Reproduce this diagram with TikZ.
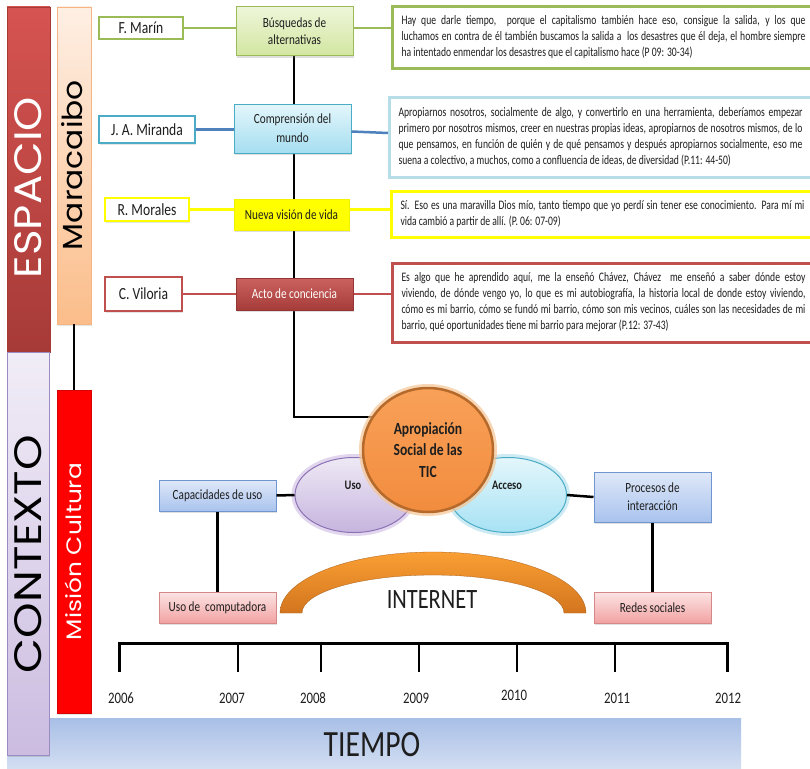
\documentclass[tikz,border=0pt]{standalone}
\usepackage{fontspec}
\usepackage{graphicx}
\setmainfont{Carlito}[FakeStretch=0.8]
\newfontfamily\quotefont{Carlito}[FakeStretch=0.74]
\newfontfamily\gothic{Poppins}
\usetikzlibrary{shapes.geometric,shadows}
\newcommand\resetsp{\spaceskip=0pt\xspaceskip=0pt\relax}
\newcommand\jline[1]{\makebox[404pt][s]{\resetsp #1}}
\definecolor{txt}{HTML}{1E1E1E}
\definecolor{gB}{HTML}{9BBB59}
\definecolor{tealB}{HTML}{4BACC6}
\definecolor{blueL}{HTML}{4F81BD}
\definecolor{yelB}{HTML}{FFFF00}
\definecolor{redB}{HTML}{C0504D}
\definecolor{q2B}{HTML}{B7DEE8}
\definecolor{espTop}{HTML}{D65451}
\definecolor{espBot}{HTML}{A63A37}
\definecolor{ctxTop}{HTML}{F1EDF7}
\definecolor{ctxBot}{HTML}{CBBCE0}
\definecolor{ctxB}{HTML}{9C8AC2}
\definecolor{maraTop}{HTML}{FEEFE4}
\definecolor{maraBot}{HTML}{FBBD8A}
\definecolor{maraB}{HTML}{F7B483}
\definecolor{misRed}{HTML}{FF0000}
\definecolor{misB}{HTML}{D80000}
\definecolor{tiTop}{HTML}{A8BFE6}
\definecolor{tiBot}{HTML}{D4DFF2}
\definecolor{busTop}{HTML}{EEF6D9}
\definecolor{busBot}{HTML}{D2E6A1}
\definecolor{coTop}{HTML}{E4F6FB}
\definecolor{coBot}{HTML}{A5DEF1}
\definecolor{actTop}{HTML}{CB625F}
\definecolor{actBot}{HTML}{A63C39}
\definecolor{actB}{HTML}{943634}
\definecolor{capTop}{HTML}{DFE8F8}
\definecolor{capBot}{HTML}{A9C3EE}
\definecolor{capB}{HTML}{7096D2}
\definecolor{rsTop}{HTML}{FCE4E4}
\definecolor{rsBot}{HTML}{F2A2A2}
\definecolor{rsB}{HTML}{D48888}
\definecolor{usoTop}{HTML}{EEE9F5}
\definecolor{usoBot}{HTML}{C6B4DE}
\definecolor{usoB}{HTML}{8C72B4}
\definecolor{usoG}{HTML}{CDBCE4}
\definecolor{accTop}{HTML}{E3F6FB}
\definecolor{accBot}{HTML}{A7E2F4}
\definecolor{accG}{HTML}{AEDFEE}
\definecolor{apTop}{HTML}{F8A158}
\definecolor{apBot}{HTML}{F28C3E}
\definecolor{apB}{HTML}{B5692A}
\definecolor{apG}{HTML}{F6C593}
\definecolor{inTop}{HTML}{FA9F34}
\definecolor{inBot}{HTML}{D2751E}
\begin{document}
\begin{tikzpicture}[x=1pt,y=-1pt,
  namebox/.style={draw, fill=white, line width=2.5pt, inner sep=0pt,
    font=\fontsize{17}{20}\selectfont, text=txt,
    drop shadow={opacity=0.2, shadow xshift=1pt, shadow yshift=-1.5pt}},
  conbox/.style={draw, line width=1pt, inner sep=0pt, align=center,
    font=\fontsize{14}{17}\selectfont, text=txt,
    drop shadow={opacity=0.25, shadow xshift=1.2pt, shadow yshift=-1.8pt}},
  quotebox/.style={draw, fill=white, line width=3pt, inner sep=0pt, anchor=west,
    minimum width=422, text width=404pt, align=left,
    font=\quotefont\fontsize{13}{16}\selectfont, text=txt,
    drop shadow={opacity=0.2, shadow xshift=1pt, shadow yshift=-1.5pt}},
  bar/.style={draw, line width=0.8pt, inner sep=0pt},
  conn/.style={line width=2.5pt},
  blk/.style={line width=2.5pt, black},
  year/.style={font=\fontsize{16}{18}\selectfont, text=txt},
  ell/.style={ellipse, draw, inner sep=0pt}
]
\useasboundingbox[fill=white] (0,0) rectangle (810,768);

% ---- background bars ----
\node[bar, draw=none, top color=tiTop, bottom color=tiBot, minimum width=734, minimum height=52] (tiempoband) at (374,744) {};
\node[bar, draw=espBot, top color=espTop, bottom color=espBot, minimum width=43, minimum height=345] (espbar) at (28.5,179.5) {};
\node[bar, draw=ctxB, top color=ctxTop, bottom color=ctxBot, minimum width=42, minimum height=403,
  drop shadow={opacity=0.25, shadow xshift=1.2pt, shadow yshift=-1.5pt}] (ctxbar) at (28,553.5) {};
\node[bar, draw=maraB, top color=maraTop, bottom color=maraBot, minimum width=34, minimum height=317,
  drop shadow={opacity=0.2, shadow xshift=1.2pt, shadow yshift=-1.5pt}] (mara) at (74,165.5) {};
\node[bar, draw=misB, fill=misRed, minimum width=34, minimum height=323,
  drop shadow={opacity=0.2, shadow xshift=1.2pt, shadow yshift=-1.5pt}] (mision) at (74,551.5) {};
\draw[line width=2pt] (mara.south) -- (mision.north);

\node[rotate=90, text=white, inner sep=0pt] (espt) at (28.5,187.5) {\resizebox{181pt}{27pt}{\gothic ESPACIO}};
\node[rotate=90, text=black, inner sep=0pt] (ctxt) at (28.5,554) {\resizebox{238pt}{27pt}{\gothic CONTEXTO}};
\node[rotate=90, text=black, inner sep=0pt] (marat) at (72.5,165) {\resizebox{170pt}{21pt}{\gothic Maracaibo}};
\node[rotate=90, text=white, inner sep=0pt] (mist) at (73.75,551.5) {\resizebox{177pt}{16.5pt}{\gothic Misión Cultura}};

% ---- names ----
\node[namebox, draw=gB, minimum width=84, minimum height=22] (marin) at (141,28) {F. Marín};
\node[namebox, draw=tealB, minimum width=96, minimum height=27] (miranda) at (147,129.5) {J. A. Miranda};
\node[namebox, draw=yelB, minimum width=84, minimum height=23] (morales) at (147,209.5) {R. Morales};
\node[namebox, draw=redB, minimum width=77, minimum height=34] (viloria) at (143.5,294) {C. Viloria};

% ---- main central ellipses ----
\node[ell, draw=usoB, line width=1pt, top color=usoTop, bottom color=usoBot, minimum width=118, minimum height=75,
  preaction={draw=usoG, line width=7pt, opacity=0.6}] (uso) at (354,495) {};
\node[ell, draw=tealB, line width=1pt, top color=accTop, bottom color=accBot, minimum width=117, minimum height=75,
  preaction={draw=accG, line width=7pt, opacity=0.6}] (acceso) at (508,495) {};
\node[font=\bfseries\fontsize{13}{15}\selectfont, text=txt] (usot) at (353,485) {Uso};
\node[font=\bfseries\fontsize{13}{15}\selectfont, text=txt] (accesot) at (507,485) {Acceso};

% ---- black vertical connector ----
\coordinate (apjoin) at (372,417);
\draw[blk, line join=miter] (294,56) coordinate (busbot) |- (apjoin);

\node[ell, draw=apB, line width=2.5pt, top color=apTop, bottom color=apBot, minimum width=130, minimum height=124,
  preaction={draw=apG, line width=8pt, opacity=0.7}, align=center,
  font=\bfseries\fontsize{17}{21.5}\selectfont, text=txt] (apro) at (428,450) {Apropiación\\\resetsp Social de las\\TIC};

% ---- concept boxes ----
\node[conbox, draw=gB, top color=busTop, bottom color=busBot, minimum width=117, minimum height=49] (busq) at (294.5,31.5) {\resetsp Búsquedas de\\alternativas};
\node[conbox, draw=tealB, top color=coTop, bottom color=coBot, minimum width=117, minimum height=49,
  font=\fontsize{14}{19}\selectfont] (compr) at (292.5,128.5) {\resetsp Comprensión del\\mundo};
\node[conbox, draw=yelB!95!black, fill=yelB, minimum width=115, minimum height=31] (nueva) at (291.5,214.5) {\resetsp Nueva visión de vida};
\node[conbox, draw=actB, top color=actTop, bottom color=actBot, minimum width=117, minimum height=32, text=white] (acto) at (294.5,294) {\resetsp Acto de conciencia};

% ---- quote boxes ----
\node[quotebox, draw=gB, minimum height=61] (q1) at (391,37.5) {\resetsp
\jline{Hay que darle tiempo, \ porque el capitalismo también hace eso, consigue la salida, y los que}\\
\jline{luchamos en contra de él también buscamos la salida a \ los desastres que él deja, el hombre siempre}\\
ha intentado enmendar los desastres que el capitalismo hace (P 09: 30-34)};
\node[quotebox, draw=q2B, minimum height=80] (q2) at (388,137) {\resetsp
\jline{Apropiarnos nosotros, socialmente de algo, y convertirlo en una herramienta, deberíamos empezar}\\
\jline{primero por nosotros mismos, creer en nuestras propias ideas, apropiarnos de nosotros mismos, de lo}\\
\jline{que pensamos, en función de quién y de qué pensamos y después apropiarnos socialmente, eso me}\\
suena a colectivo, a muchos, como a confluencia de ideas, de diversidad (P.11: 44-50)};
\node[quotebox, draw=yelB, minimum height=46] (q3) at (390,214) {\resetsp
\jline{Sí. Eso es una maravilla Dios mío, tanto tiempo que yo perdí sin tener ese conocimiento. Para mí mi}\\
vida cambió a partir de allí. (P. 06: 07-09)};
\node[quotebox, draw=redB, minimum height=79] (q4) at (391,302.5) {\resetsp
\jline{Es algo que he aprendido aquí, me la enseñó Chávez, Chávez \ me enseñó a saber dónde estoy}\\
\jline{viviendo, de dónde vengo yo, lo que es mi autobiografía, la historia local de donde estoy viviendo,}\\
\jline{cómo es mi barrio, cómo se fundó mi barrio, cómo son mis vecinos, cuáles son las necesidades de mi}\\
barrio, qué oportunidades tiene mi barrio para mejorar (P.12: 37-43)};

% ---- colored connectors ----
\draw[conn, gB] (marin.east) -- (busq.west |- marin.east);
\draw[conn, gB] (busq.east |- marin.east) -- (q1.west |- marin.east);
\draw[conn, blueL] (miranda.east) -- ([yshift=-1pt]compr.west);
\draw[conn, blueL] ([yshift=-3pt]compr.east) -- ([yshift=4pt]q2.west);
\draw[conn, yelB] (morales.east) -- (nueva.west |- morales.east);
\draw[conn, yelB] (nueva.east |- morales.east) -- (q3.west |- morales.east);
\draw[conn, redB] (viloria.east) -- (acto.west);
\draw[conn, redB] (acto.east) -- (q4.west |- acto.east);

% ---- lower boxes ----
\node[conbox, draw=capB, top color=capTop, bottom color=capBot, minimum width=117, minimum height=31] (capac) at (217.5,495.5) {\resetsp Capacidades de uso};
\node[conbox, draw=rsB, top color=rsTop, bottom color=rsBot, minimum width=117, minimum height=31] (ucomp) at (217.5,607.5) {\resetsp Uso de \ computadora};
\node[conbox, draw=capB, top color=capTop, bottom color=capBot, minimum width=117, minimum height=50,
  font=\fontsize{14}{18}\selectfont] (procesos) at (652.5,497) {\resetsp Procesos de\\interacción};
\node[conbox, draw=rsB, top color=rsTop, bottom color=rsBot, minimum width=117, minimum height=31] (redes) at (652.5,607.5) {\resetsp Redes sociales};

\draw[blk] (capac.east) -- (uso.west);
\draw[blk] (capac.south) -- (ucomp.north);
\draw[blk] (acceso.east) -- (procesos.west);
\draw[blk] (procesos.south) -- (redes.north);

% ---- internet arch ----
\path[top color=inTop, bottom color=inBot, draw=inBot!80!black, line width=0.3pt]
  (280,613) .. controls (280,579.3) and (348.5,552) .. (433,552)
  .. controls (517.5,552) and (586,579.3) .. (586,613)
  -- (564,613)
  .. controls (564,592) and (504.8,575) .. (433,575)
  .. controls (361.2,575) and (302,592) .. (302,613) -- cycle;
\node[font=\fontsize{28}{30}\selectfont, text=txt] (inet) at (432,600) {INTERNET};

% ---- timeline ----
\coordinate (tl0) at (119,643); \coordinate (tb0) at (119,672);
\coordinate (tl1) at (238,643); \coordinate (tb1) at (238,672);
\coordinate (tl2) at (321,643); \coordinate (tb2) at (321,672);
\coordinate (tl3) at (419,643); \coordinate (tb3) at (419,672);
\coordinate (tl4) at (517,643); \coordinate (tb4) at (517,672);
\coordinate (tl5) at (615,643); \coordinate (tb5) at (615,672);
\coordinate (tl6) at (727,643); \coordinate (tb6) at (727,672);
\draw[line width=3pt, line join=miter] (tb0) -- (tl0) -- (tl6) -- (tb6);
\foreach \i in {1,...,5} \draw[line width=2.5pt] (tl\i) -- (tb\i);

\node[year] (y06) at (121,698) {2006};
\node[year] (y07) at (232,698) {2007};
\node[year] (y08) at (313,698) {2008};
\node[year] (y09) at (416,698) {2009};
\node[year] (y10) at (514,695) {2010};
\node[year] (y11) at (617,698) {2011};
\node[year] (y12) at (728,698) {2012};

\node[font=\fontsize{37}{40}\selectfont, text=txt] (tiempo) at (372,745) {TIEMPO};
\end{tikzpicture}
\end{document}
